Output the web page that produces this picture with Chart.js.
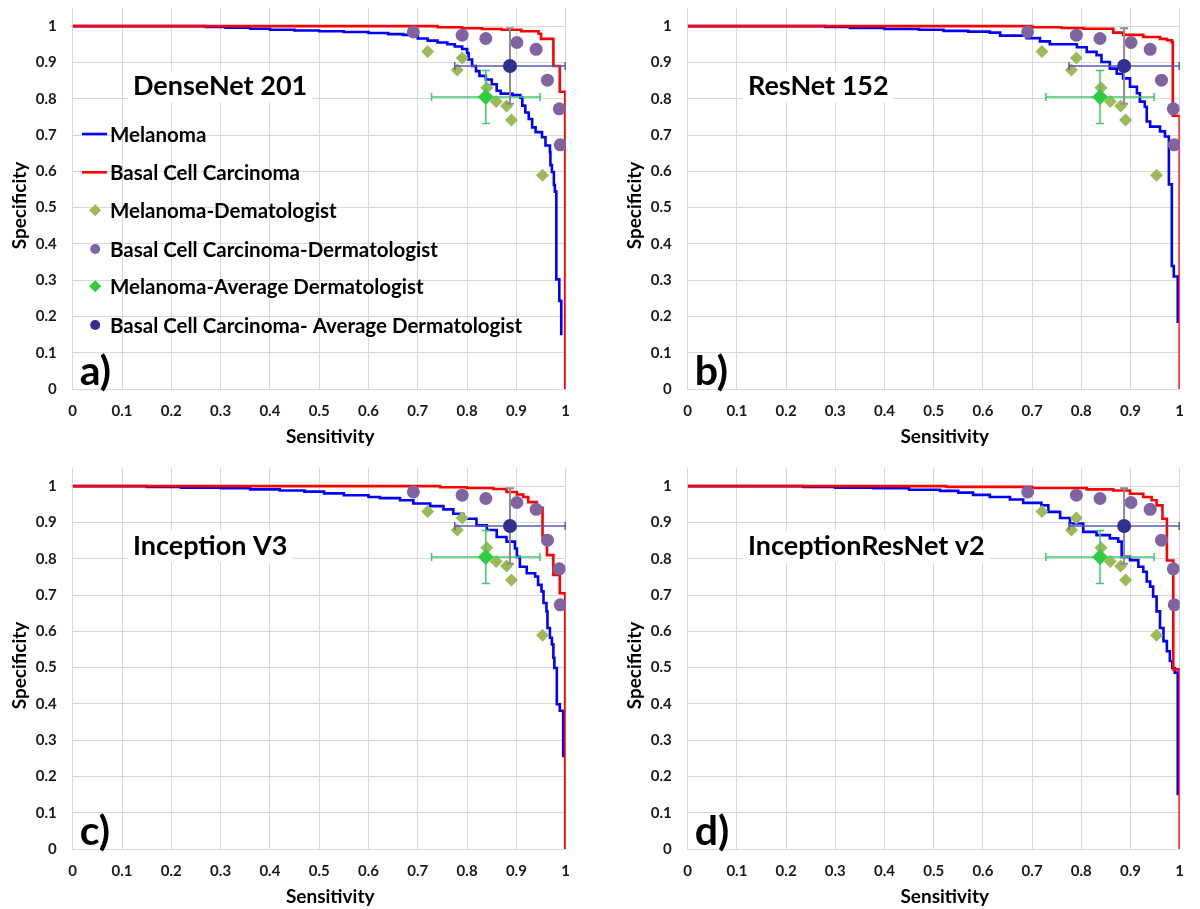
<!DOCTYPE html>
<html>
<head>
<meta charset="utf-8">
<script src="https://cdn.jsdelivr.net/npm/chart.js@4.4.0/dist/chart.umd.min.js"></script>
<style>
  html, body { margin: 0; padding: 0; background: #fff; width: 1200px; height: 909px; overflow: hidden; }
  canvas { position: absolute; }
</style>
</head>
<body>
<canvas id="pa" width="600" height="455" style="left:0px;top:0px"></canvas>
<canvas id="pb" width="585" height="455" style="left:615px;top:0px"></canvas>
<canvas id="pc" width="600" height="455" style="left:0px;top:460px"></canvas>
<canvas id="pd" width="585" height="455" style="left:615px;top:460px"></canvas>
<script>
// ---- Axis ticks ----
const tickValues = [0, 0.1, 0.2, 0.3, 0.4, 0.5, 0.6, 0.7, 0.8, 0.9, 1];
const xTitle = 'Sensitivity';
const yTitle = 'Specificity';

// ---- Dermatologists (same reader study in every panel) ----
const melDermSens = [0.720, 0.790, 0.780, 0.840, 0.859, 0.880, 0.890, 0.953];
const melDermSpec = [0.930, 0.912, 0.879, 0.830, 0.792, 0.780, 0.741, 0.589];
const bccDermSens = [0.691, 0.790, 0.838, 0.901, 0.940, 0.963, 0.987, 0.989];
const bccDermSpec = [0.984, 0.975, 0.966, 0.955, 0.936, 0.851, 0.772, 0.673];

const melAvgSens = [0.838];
const melAvgSpec = [0.805];
const melAvgSensErr = [0.110];
const melAvgSpecErr = [0.073];
const bccAvgSens = [0.887];
const bccAvgSpec = [0.890];
const bccAvgSensErr = [0.112];
const bccAvgSpecErr = [0.104];

// ---- ROC curves (step points: sensitivity where the drop happens, specificity after it) ----
const denseMelSens = [0, 0.27, 0.31, 0.36, 0.40, 0.45, 0.50, 0.55, 0.60, 0.64, 0.67, 0.69, 0.70, 0.72, 0.74, 0.76, 0.775, 0.79, 0.80, 0.803, 0.81, 0.818, 0.825, 0.838, 0.85, 0.86, 0.868, 0.892, 0.908, 0.912, 0.918, 0.925, 0.932, 0.939, 0.952, 0.959, 0.968, 0.969, 0.972, 0.976, 0.978, 0.981, 0.987, 0.991];
const denseMelSpec = [1, 0.998, 0.996, 0.993, 0.990, 0.988, 0.986, 0.984, 0.981, 0.978, 0.976, 0.972, 0.966, 0.960, 0.955, 0.950, 0.944, 0.937, 0.926, 0.908, 0.890, 0.876, 0.863, 0.853, 0.840, 0.822, 0.814, 0.810, 0.803, 0.781, 0.762, 0.744, 0.721, 0.708, 0.694, 0.671, 0.653, 0.617, 0.598, 0.562, 0.544, 0.302, 0.243, 0.148];
const denseBccSens = [0, 0.74, 0.79, 0.83, 0.87, 0.91, 0.945, 0.95, 0.975, 0.988, 0.999];
const denseBccSpec = [1, 0.997, 0.994, 0.992, 0.990, 0.986, 0.979, 0.965, 0.890, 0.819, 0];

const resMelSens = [0, 0.28, 0.33, 0.40, 0.47, 0.52, 0.57, 0.614, 0.635, 0.689, 0.716, 0.736, 0.791, 0.811, 0.831, 0.841, 0.858, 0.872, 0.885, 0.899, 0.913, 0.919, 0.929, 0.933, 0.940, 0.960, 0.970, 0.978, 0.984, 0.988, 0.996];
const resMelSpec = [1, 0.998, 0.995, 0.992, 0.990, 0.987, 0.985, 0.982, 0.974, 0.967, 0.958, 0.950, 0.942, 0.929, 0.920, 0.901, 0.883, 0.869, 0.856, 0.833, 0.815, 0.792, 0.778, 0.737, 0.723, 0.710, 0.696, 0.564, 0.339, 0.310, 0.182];
const resBccSens = [0, 0.70, 0.76, 0.804, 0.865, 0.885, 0.926, 0.96, 0.974, 0.984, 0.986, 1.0];
const resBccSpec = [1, 0.997, 0.995, 0.993, 0.982, 0.976, 0.970, 0.965, 0.961, 0.956, 0.753, 0];

const incMelSens = [0, 0.15, 0.22, 0.30, 0.36, 0.42, 0.47, 0.51, 0.55, 0.60, 0.623, 0.664, 0.691, 0.725, 0.752, 0.772, 0.792, 0.819, 0.840, 0.860, 0.880, 0.897, 0.901, 0.907, 0.921, 0.938, 0.944, 0.951, 0.955, 0.961, 0.963, 0.968, 0.972, 0.975, 0.977, 0.982, 0.988, 0.995];
const incMelSpec = [1, 0.998, 0.996, 0.994, 0.991, 0.988, 0.985, 0.980, 0.975, 0.970, 0.967, 0.961, 0.952, 0.945, 0.936, 0.924, 0.910, 0.892, 0.879, 0.860, 0.847, 0.828, 0.805, 0.778, 0.760, 0.751, 0.728, 0.710, 0.678, 0.655, 0.609, 0.582, 0.564, 0.527, 0.499, 0.399, 0.381, 0.253];
const incBccSens = [0, 0.745, 0.80, 0.853, 0.880, 0.901, 0.914, 0.924, 0.941, 0.953, 0.962, 0.975, 0.988, 0.999];
const incBccSpec = [1, 0.997, 0.995, 0.992, 0.984, 0.977, 0.970, 0.956, 0.940, 0.863, 0.810, 0.755, 0.705, 0];

const irnMelSens = [0, 0.235, 0.30, 0.377, 0.45, 0.513, 0.55, 0.58, 0.614, 0.655, 0.682, 0.719, 0.733, 0.757, 0.777, 0.804, 0.831, 0.858, 0.875, 0.882, 0.899, 0.916, 0.926, 0.933, 0.940, 0.946, 0.953, 0.960, 0.967, 0.974, 0.980, 0.985, 0.990, 0.996];
const irnMelSpec = [1, 0.998, 0.996, 0.994, 0.990, 0.987, 0.982, 0.976, 0.970, 0.963, 0.954, 0.947, 0.929, 0.912, 0.897, 0.874, 0.865, 0.856, 0.847, 0.805, 0.796, 0.778, 0.764, 0.737, 0.723, 0.696, 0.655, 0.609, 0.573, 0.545, 0.518, 0.499, 0.486, 0.148];
const irnBccSens = [0, 0.526, 0.70, 0.811, 0.865, 0.899, 0.926, 0.943, 0.953, 0.965, 0.974, 0.987, 1.0];
const irnBccSpec = [1, 0.998, 0.995, 0.991, 0.988, 0.979, 0.970, 0.961, 0.947, 0.910, 0.795, 0.495, 0];

// ---- Panels ----
const panelIds = ['pa', 'pb', 'pc', 'pd'];
const panelNames = ['DenseNet 201', 'ResNet 152', 'Inception V3', 'InceptionResNet v2'];
const panelTags = ['a)', 'b)', 'c)', 'd)'];
const panelMel = [[denseMelSens, denseMelSpec], [resMelSens, resMelSpec], [incMelSens, incMelSpec], [irnMelSens, irnMelSpec]];
const panelBcc = [[denseBccSens, denseBccSpec], [resBccSens, resBccSpec], [incBccSens, incBccSpec], [irnBccSens, irnBccSpec]];

const legendLabels = ['Melanoma', 'Basal Cell Carcinoma', 'Melanoma-Dematologist', 'Basal Cell Carcinoma-Dermatologist', 'Melanoma-Average Dermatologist', 'Basal Cell Carcinoma- Average Dermatologist'];

const FONT = 'Lato, "Open Sans", sans-serif';
const TEXT = '#1a1a1a';
const GRID = '#d9d9d9';

const toPoints = (xs, ys) => xs.map((x, i) => ({ x: x, y: ys[i] }));
const fmt = v => String(Number(v.toFixed(1)));

// Error bars are drawn just before the marker of the dataset that carries them.
const errorBarPlugin = {
  id: 'errorBars',
  beforeDatasetDraw(chart, args) {
    const ds = chart.data.datasets[args.index];
    if (!ds.errX) return;
    const ctx = chart.ctx, xs = chart.scales.x, ys = chart.scales.y;
    ctx.save();
    ds.data.forEach((p, i) => {
      const px = xs.getPixelForValue(p.x), py = ys.getPixelForValue(p.y);
      const x0 = xs.getPixelForValue(p.x - ds.errX[i]), x1 = xs.getPixelForValue(p.x + ds.errX[i]);
      const y0 = ys.getPixelForValue(p.y - ds.errY[i]), y1 = ys.getPixelForValue(p.y + ds.errY[i]);
      const cap = 4;
      ctx.strokeStyle = ds.errColorY; ctx.lineWidth = ds.errWidthY;
      ctx.beginPath();
      ctx.moveTo(px, y0); ctx.lineTo(px, y1);
      ctx.moveTo(px - cap, y0); ctx.lineTo(px + cap, y0);
      ctx.moveTo(px - cap, y1); ctx.lineTo(px + cap, y1);
      ctx.stroke();
      ctx.strokeStyle = ds.errColorX; ctx.lineWidth = ds.errWidthX;
      ctx.beginPath();
      ctx.moveTo(x0, py); ctx.lineTo(x1, py);
      ctx.moveTo(x0, py - cap); ctx.lineTo(x0, py + cap);
      ctx.moveTo(x1, py - cap); ctx.lineTo(x1, py + cap);
      ctx.stroke();
    });
    ctx.restore();
  }
};

// Model name in a white box, panel letter, axis titles, and the legend of panel a.
const panelTextPlugin = {
  id: 'panelText',
  beforeDatasetsDraw(chart, args, opts) {
    const { ctx, chartArea: a } = chart;
    ctx.save();
    ctx.font = 'bold 27px ' + FONT;
    const w = ctx.measureText(opts.name).width;
    ctx.fillStyle = '#fff';
    ctx.fillRect(a.left + 55.3, a.top + 62.5, w + 10, 32);
    ctx.fillStyle = '#000';
    ctx.textBaseline = 'middle';
    ctx.fillText(opts.name, a.left + 60.3, a.top + 78.5);
    ctx.font = 'bold 41px ' + FONT;
    ctx.textBaseline = 'alphabetic';
    ctx.fillText(opts.tag, a.left + 7, a.bottom - 4);

    // axis titles
    ctx.font = 'bold 19px ' + FONT;
    ctx.textAlign = 'center';
    ctx.textBaseline = 'middle';
    ctx.fillText(xTitle, (a.left + a.right) / 2 + 11, a.bottom + 48);
    ctx.translate(20, (a.top + a.bottom) / 2 + 7);
    ctx.rotate(-Math.PI / 2);
    ctx.fillText(yTitle, 0, 0);
    ctx.restore();
  },
  afterDatasetsDraw(chart, args, opts) {
    if (!opts.legend) return;
    const { ctx, chartArea: a } = chart;
    ctx.save();
    ctx.font = 'bold 20.5px ' + FONT;
    ctx.textBaseline = 'middle';
    const rowY = [126, 164.3, 202.3, 241, 278.3, 317];
    chart.data.datasets.forEach((ds, i) => {
      const y = a.top + rowY[i];
      if (ds.showLine) {
        ctx.strokeStyle = ds.borderColor; ctx.lineWidth = ds.borderWidth;
        ctx.beginPath(); ctx.moveTo(a.left + 9.3, y); ctx.lineTo(a.left + 34.3, y); ctx.stroke();
      } else {
        const r = ds.legendRadius, cx = a.left + 22.5;
        ctx.fillStyle = ds.backgroundColor;
        ctx.beginPath();
        if (ds.pointStyle === 'circle') ctx.arc(cx, y, r, 0, Math.PI * 2);
        else { ctx.moveTo(cx, y - r); ctx.lineTo(cx + r, y); ctx.lineTo(cx, y + r); ctx.lineTo(cx - r, y); ctx.closePath(); }
        ctx.fill();
      }
      ctx.fillStyle = '#000';
      ctx.fillText(ds.label, a.left + 37.3, y + 1);
    });
    ctx.restore();
  }
};

function buildPanel(i) {
  const isRight = i % 2 === 1;
  const datasets = [
    { label: legendLabels[0], data: toPoints(panelMel[i][0], panelMel[i][1]), showLine: true, stepped: true,
      borderColor: '#0000ff', borderWidth: 2.6, pointRadius: 0, order: 5 },
    { label: legendLabels[1], data: toPoints(panelBcc[i][0], panelBcc[i][1]), showLine: true, stepped: true,
      borderColor: '#ff0000', borderWidth: 2.6, pointRadius: 0, order: 4 },
    { label: legendLabels[2], data: toPoints(melDermSens, melDermSpec), pointStyle: 'rectRot',
      backgroundColor: '#9bbb59', borderWidth: 0, pointRadius: 6.5, legendRadius: 6, order: 3 },
    { label: legendLabels[3], data: toPoints(bccDermSens, bccDermSpec), pointStyle: 'circle',
      backgroundColor: '#8064a2', borderWidth: 0, pointRadius: 6.5, legendRadius: 5, order: 2 },
    { label: legendLabels[4], data: toPoints(melAvgSens, melAvgSpec), pointStyle: 'rectRot',
      backgroundColor: '#2ecc40', borderWidth: 0, pointRadius: 8, legendRadius: 6, order: 1,
      errX: melAvgSensErr, errY: melAvgSpecErr, errColorX: '#3ccc6c', errColorY: '#3ccc6c', errWidthX: 1.5, errWidthY: 1.5 },
    { label: legendLabels[5], data: toPoints(bccAvgSens, bccAvgSpec), pointStyle: 'circle',
      backgroundColor: '#2f3190', borderWidth: 0, pointRadius: 7, legendRadius: 5, order: 0,
      errX: bccAvgSensErr, errY: bccAvgSpecErr, errColorX: '#5a5ab4', errColorY: '#8c8c8c', errWidthX: 1.5, errWidthY: 2 }
  ];
  const tickFont = { family: FONT, size: 15, weight: 'bold' };
  new Chart(document.getElementById(panelIds[i]), {
    type: 'scatter',
    data: { datasets: datasets },
    options: {
      responsive: false,
      animation: false,
      events: [],
      layout: { padding: { left: 0, right: isRight ? 20.3 : 34.3, top: 5.75, bottom: 0 } },
      plugins: {
        legend: { display: false },
        tooltip: { enabled: false },
        panelText: { name: panelNames[i], tag: panelTags[i], legend: i === 0 }
      },
      scales: {
        x: {
          type: 'linear', min: 0, max: 1,
          afterBuildTicks: s => { s.ticks = tickValues.map(v => ({ value: v })); },
          afterFit: s => { s.height = 66; },
          grid: { color: GRID, lineWidth: 1, drawTicks: false },
          border: { color: GRID },
          ticks: { color: TEXT, font: tickFont, padding: 13, maxRotation: 0, callback: v => fmt(v) }
        },
        y: {
          type: 'linear', min: 0, max: 1.05,
          afterBuildTicks: s => { s.ticks = tickValues.map(v => ({ value: v })); },
          afterFit: s => { s.width = 72.7; s.paddingTop = 0; s.paddingBottom = 0; },
          grid: { color: GRID, lineWidth: 1, drawTicks: false },
          border: { color: GRID },
          ticks: { color: TEXT, font: tickFont, padding: 16, callback: v => fmt(v) }
        }
      }
    },
    plugins: [errorBarPlugin, panelTextPlugin]
  });
}

panelIds.forEach((id, i) => buildPanel(i));
</script>
</body>
</html>
